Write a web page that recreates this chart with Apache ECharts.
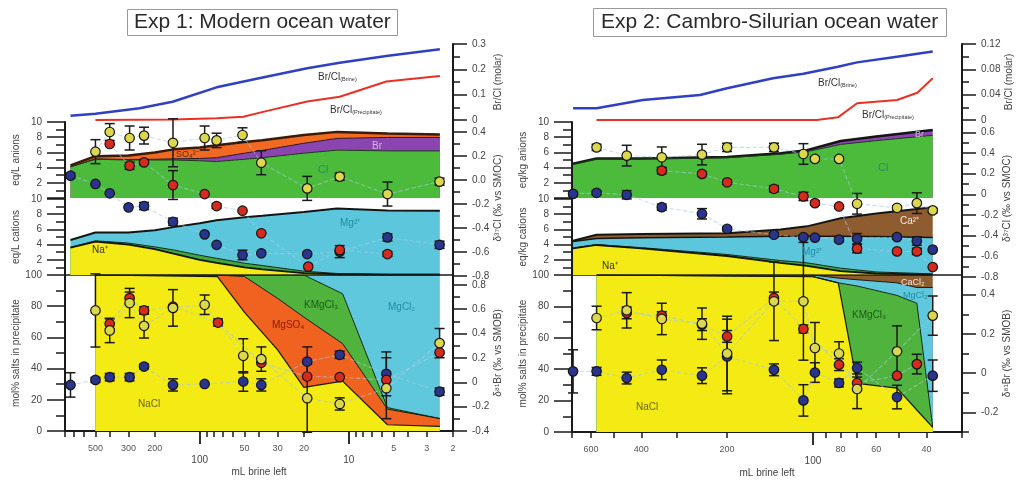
<!DOCTYPE html>
<html><head><meta charset="utf-8">
<script src="https://cdn.jsdelivr.net/npm/echarts@6/dist/echarts.min.js"></script>
<style>html,body{margin:0;padding:0;background:#fff}#c{width:1018px;height:480px}</style>
</head><body><div id="c"></div>
<script>
// ---------------- DATA ----------------
// Exp 1 (left) — x = mL brine left
const L_BRINE_X = [735, 500, 253, 152, 77, 40, 19, 11.5, 5.6, 2.45];
const L_BRINE_Y = [0.017, 0.025, 0.046, 0.072, 0.129, 0.165, 0.204, 0.226, 0.253, 0.279];
const L_PREC_X = [500, 150, 77, 51, 37, 19, 11.5, 5.6, 2.45];
const L_PREC_Y = [0, 0.002, 0.007, 0.013, 0.033, 0.073, 0.092, 0.152, 0.174];

const L_ION_X = [735, 500, 300, 200, 150, 100, 77, 50, 38, 20, 12, 5.5, 2.45];
const L_CL  = [4.1, 5.1, 5.0, 5.0, 5.0, 4.9, 4.8, 5.1, 5.3, 5.9, 6.3, 6.2, 6.2];
const L_BR  = [0, 0.05, 0.05, 0.1, 0.15, 0.3, 0.5, 0.8, 0.96, 1.3, 1.54, 1.77, 1.77];
const L_SO4 = [0.2, 0.35, 0.55, 0.9, 1.25, 1.45, 1.65, 1.47, 1.34, 1.08, 0.86, 0.53, 0.4];
const L_NA  = [3.6, 4.4, 4.0, 3.4, 2.8, 2.0, 1.6, 1.0, 0.75, 0.25, 0.1, 0.05, 0.05];
const L_K   = [0.05, 0.1, 0.2, 0.3, 0.5, 0.6, 0.6, 0.55, 0.5, 0.25, 0.1, 0.05, 0.05];
const L_MG  = [0.95, 1.1, 1.4, 2.2, 3.0, 4.2, 5.0, 6.05, 6.55, 7.8, 8.55, 8.4, 8.35];

const L_PPT_X = [500, 76, 50, 30, 20, 11, 5.5, 2.45];
const L_NACL   = [100, 99, 76, 52, 28, 32, 4, 3];
const L_MGSO4  = [0, 1, 23, 33, 45, 24, 10, 5];
const L_KMGCL3 = [0, 0, 1, 15, 27, 32, 1, 0];
const L_MGCL2  = [0, 0, 0, 0, 0, 12, 85, 92];

const L37_BLUE_X = [735, 500, 401, 300, 236, 151, 92.6, 77, 51.6, 38.6, 19, 11.5, 5.5, 2.46];
const L37_BLUE_Y = [0.036, -0.033, -0.111, -0.228, -0.217, -0.348, -0.453, -0.54, -0.625, -0.611, -0.617, -0.597, -0.478, -0.54];
const L37_BLUE_E = [0.02, 0, 0, 0, 0.03, 0.03, 0, 0, 0.04, 0, 0, 0.05, 0.03, 0.03];
const L37_RED_X = [401, 295, 236, 151, 92.6, 77, 51.6, 38.6, 18.7, 11.5, 5.5];
const L37_RED_Y = [0.3, 0.119, 0.147, -0.042, -0.117, -0.217, -0.256, -0.444, -0.722, -0.583, -0.617];
const L37_RED_E = [0, 0.03, 0.02, 0.12, 0, 0.02, 0, 0, 0, 0, 0.02];
const L37_YEL_X = [500, 401, 295, 236, 151, 92.6, 77, 51.6, 38.6, 19, 11.5, 5.5, 2.46];
const L37_YEL_Y = [0.236, 0.40, 0.35, 0.37, 0.31, 0.35, 0.33, 0.375, 0.144, -0.07, 0.028, -0.117, -0.014];
const L37_YEL_E = [0.1, 0.07, 0.1, 0.07, 0.2, 0.1, 0.06, 0.06, 0.1, 0.1, 0.03, 0.1, 0.03];

const L81_YEL_X = [500, 401, 295, 236, 151, 92.6, 51, 38.6, 19, 11.5, 5.6, 2.46];
const L81_YEL_Y = [0.589, 0.425, 0.65, 0.463, 0.61, 0.636, 0.217, 0.19, -0.131, -0.178, -0.049, 0.321];
const L81_YEL_E = [0.3, 0.1, 0.12, 0.1, 0.15, 0.08, 0.14, 0.1, 0.28, 0.05, 0.25, 0.12];
const L81_RED_X = [401, 295, 236, 151, 75.3, 38.6, 19, 11.5, 5.6, 2.46];
const L81_RED_Y = [0.48, 0.69, 0.589, 0.62, 0.49, 0.16, 0.047, 0.042, 0.019, 0.244];
const L81_RED_E = [0.04, 0.05, 0.03, 0, 0.03, 0, 0, 0, 0, 0];
const L81_BLUE_X = [735, 500, 401, 295, 236, 151, 92.6, 51, 38.6, 19, 11.5, 5.6, 2.46];
const L81_BLUE_Y = [-0.022, 0.019, 0.042, 0.042, 0.129, -0.022, -0.014, 0.006, -0.022, 0.17, 0.225, 0.069, -0.077];
const L81_BLUE_E = [0.1, 0.02, 0.03, 0.03, 0.02, 0.05, 0, 0.08, 0.05, 0.12, 0.03, 0.18, 0.03];

// Exp 2 (right)
const R_BRINE_X = [694, 574, 395, 249, 200, 138, 108, 81.7, 70, 50.7, 38];
const R_BRINE_Y = [0.0185, 0.0185, 0.0316, 0.0395, 0.05, 0.066, 0.073, 0.084, 0.091, 0.1, 0.108];
const R_PREC_X = [574, 97, 81.7, 70, 50.7, 43, 38];
const R_PREC_Y = [0, 0, 0.0042, 0.0264, 0.0316, 0.043, 0.066];

const R_ION_X = [694, 574, 400, 200, 130, 105, 80, 60, 38];
const R_CL = [4.45, 5.15, 5.15, 5.3, 5.75, 6.1, 7.05, 7.55, 8.25];
const R_BR = [0.05, 0.05, 0.05, 0.1, 0.15, 0.2, 0.45, 0.55, 0.7];
const R_NA = [3.5, 3.95, 3.5, 2.5, 1.6, 1.2, 0.5, 0.2, 0.05];
const R_K  = [0.05, 0.05, 0.1, 0.2, 0.3, 0.4, 0.4, 0.2, 0.1];
const R_MG = [0.85, 0.8, 1.3, 2.3, 3.2, 3.5, 4.2, 4.65, 4.8];
const R_CA = [0.1, 0.5, 0.5, 0.5, 0.9, 1.3, 2.36, 3.05, 3.95];

const R_PPT_X = [574, 100, 81.5, 70, 50.7, 43.2, 38];
const R_NACL   = [100, 99, 95, 31, 28, 14, 3];
const R_KMGCL3 = [0, 0, 0, 62, 59, 68, 0];
const R_MGCL2  = [0, 1, 3, 4, 8, 10, 89];
const R_CACL2  = [0, 0, 2, 3, 5, 8, 8];

const R37_YEL_X = [574, 450, 339, 245, 200, 137, 108, 98.4, 81, 70, 50.7, 43.2, 38];
const R37_YEL_Y = [0.455, 0.375, 0.359, 0.385, 0.455, 0.455, 0.391, 0.343, 0.343, -0.091, -0.130, -0.085, -0.155];
const R37_YEL_E = [0.03, 0.1, 0.1, 0.1, 0.04, 0.04, 0.1, 0.02, 0.02, 0.1, 0.02, 0.1, 0.02];
const R37_RED_X = [339, 245, 200, 137, 108, 98.4, 81, 70, 50.7, 43.2, 38];
const R37_RED_Y = [0.230, 0.198, 0.117, 0.054, -0.020, -0.085, -0.117, -0.525, -0.552, -0.552, -0.704];
const R37_RED_E = [0.03, 0.02, 0.02, 0.03, 0.04, 0.02, 0, 0.04, 0, 0.03, 0];
const R37_BLUE_X = [694, 574, 450, 339, 245, 200, 137, 108, 98.4, 81, 70, 50.7, 43.2, 38];
const R37_BLUE_Y = [0.005, 0.015, -0.004, -0.124, -0.188, -0.333, -0.391, -0.414, -0.419, -0.439, -0.429, -0.414, -0.452, -0.535];
const R37_BLUE_E = [0.02, 0.02, 0.04, 0.03, 0.05, 0.02, 0.02, 0.02, 0, 0.02, 0.05, 0.02, 0.04, 0];

const R81_YEL_X = [574, 450, 339, 245, 200, 137, 108, 98.4, 81, 70, 50.7, 38];
const R81_YEL_Y = [0.281, 0.32, 0.276, 0.252, 0.1, 0.366, 0.366, 0.128, 0.1, -0.081, 0.111, 0.293];
const R81_YEL_E = [0.06, 0.09, 0.08, 0.08, 0.19, 0.2, 0.3, 0.13, 0.06, 0.1, 0.13, 0.1];
const R81_RED_X = [450, 339, 245, 200, 137, 108, 81, 70, 50.7, 43.2];
const R81_RED_Y = [0.307, 0.293, 0.247, 0.187, 0.383, 0.225, 0.043, -0.05, -0.013, 0.046];
const R81_RED_E = [0.03, 0.02, 0.03, 0.03, 0.03, 0.02, 0.03, 0.03, 0, 0.05];
const R81_BLUE_X = [694, 574, 450, 339, 245, 200, 137, 108, 98.4, 81, 70, 50.7, 38];
const R81_BLUE_Y = [0.009, 0.009, -0.025, 0.017, -0.013, 0.085, 0.017, -0.139, 0.003, -0.05, 0.026, -0.122, -0.013];
const R81_BLUE_E = [0.11, 0.02, 0.03, 0.05, 0.04, 0.19, 0.03, 0.08, 0.05, 0.02, 0.03, 0.06, 0.08];

// tick values
const L_X_TICKS = [800, 700, 600, 500, 400, 300, 200, 90, 80, 70, 60, 50, 40, 30, 20, 9, 8, 7, 6, 5, 4, 3, 2];
const L_X_LABELS = [500, 300, 200, 50, 30, 20, 5, 3, 2];
const L_X_MAJOR = [100, 10];
const R_X_TICKS = [700, 600, 500, 400, 300, 200, 90, 80, 70, 60, 50, 40, 30];
const R_X_LABELS = [600, 400, 200, 80, 60, 40];
const R_X_MAJOR = [100];

// ---------------- BUILD ----------------
const FONT = '"Liberation Sans", Arial, sans-serif';
const AX = '#1a1a1a';
const LOG = Math.log10;
const grids = [], xAxes = [], yAxes = [], series = [];
const addGrid = g => { grids.push(Object.assign({ containLabel: false, outerBoundsMode: 'none' }, g)); return grids.length - 1; };
const addX = o => { xAxes.push(o); return xAxes.length - 1; };
const addY = o => { yAxes.push(o); return yAxes.length - 1; };
const cum = (...arrs) => arrs[0].map((_, i) => arrs.reduce((s, a) => s + a[i], 0));
const nameStyle = { fontSize: 10, color: '#444', fontFamily: FONT };

function hiddenX(gi, P, lineShow) {
  return addX({ type: 'value', gridIndex: gi, min: P.xmin, max: P.xmax, inverse: true, position: 'bottom',
    axisLine: { show: !!lineShow, onZero: false, lineStyle: { color: AX, width: 1.5 } },
    axisTick: { show: false }, axisLabel: { show: false }, splitLine: { show: false } });
}
function yPair(gi, pos, min, max, labels, minors, fmt, name, nameGap, majorLen, minorLen, margin, labelVals) {
  addY({ type: 'value', gridIndex: gi, position: pos, min, max,
    axisLine: { show: false }, axisTick: { show: true, customValues: minors, length: minorLen, lineStyle: { color: AX, width: 1.5 } },
    axisLabel: { show: false }, splitLine: { show: false } });
  return addY({ type: 'value', gridIndex: gi, position: pos, min, max,
    axisLine: { show: true, onZero: false, lineStyle: { color: AX, width: 2 } },
    axisTick: { show: true, customValues: labels, length: majorLen, lineStyle: { color: AX, width: 1.5 } },
    axisLabel: { customValues: labelVals || labels, formatter: fmt, margin, fontSize: 10, color: '#444', fontFamily: FONT },
    splitLine: { show: false },
    name, nameLocation: 'middle', nameGap, nameRotate: 90, nameTextStyle: nameStyle });
}
function area(xi, yi, xs, tops, color, lc, lw, z) {
  series.push({ type: 'line', xAxisIndex: xi, yAxisIndex: yi, data: xs.map((x, i) => [LOG(x), tops[i]]),
    symbol: 'none', silent: true, z, lineStyle: { color: lc, width: lw }, areaStyle: { color, opacity: 1 } });
}
function line(xi, yi, xs, ys, color, w) {
  series.push({ type: 'line', xAxisIndex: xi, yAxisIndex: yi, data: xs.map((x, i) => [LOG(x), ys[i]]),
    symbol: 'none', silent: true, z: 3, lineStyle: { color, width: w } });
}
function points(xi, yi, xs, ys, es, color) {
  series.push({ type: 'custom', xAxisIndex: xi, yAxisIndex: yi, z: 5, silent: true,
    data: xs.map((x, i) => [LOG(x), ys[i], es[i]]).filter(d => d[2] > 0),
    encode: { x: 0, y: 1 },
    renderItem: (params, api) => {
      const x = api.value(0), y = api.value(1), e = api.value(2);
      const t = api.coord([x, y + e]), b = api.coord([x, y - e]); const w = 5;
      const st = { stroke: '#1a1a1a', lineWidth: 1.5 };
      return { type: 'group', children: [
        { type: 'line', shape: { x1: t[0], y1: t[1], x2: b[0], y2: b[1] }, style: st },
        { type: 'line', shape: { x1: t[0] - w, y1: t[1], x2: t[0] + w, y2: t[1] }, style: st },
        { type: 'line', shape: { x1: b[0] - w, y1: b[1], x2: b[0] + w, y2: b[1] }, style: st } ] };
    } });
  series.push({ type: 'line', xAxisIndex: xi, yAxisIndex: yi, z: 6, silent: true,
    data: xs.map((x, i) => [LOG(x), ys[i]]), symbol: 'circle', symbolSize: 9.5,
    itemStyle: { color, borderColor: '#151515', borderWidth: 1.2 },
    lineStyle: { type: 'dashed', color: '#a7cbe0', width: 1.1, opacity: 0.6 } });
}

const BLUE = '#29348f', RED = '#d62a1f', YEL = '#dcd84e';
const C = { cl: '#4cbb3c', br: '#8a45b0', so4: '#f26a21', na: '#f3ea16', k: '#3ea83a', mg: '#5cc7dc', ca: '#8f5c2f',
  nacl: '#f4ea14', mgso4: '#f0621f', kmg: '#4fb33d', mgcl2: '#60c8dd', cacl2: '#8f5c2f' };

function panel(P) {
  const g0 = addGrid({ left: P.left, width: P.width, top: 44, height: 76 });
  const g1 = addGrid({ left: P.left, width: P.width, top: 122, height: 76 });
  const g2 = addGrid({ left: P.left, width: P.width, top: 199, height: 76 });
  const g3 = addGrid({ left: P.left, width: P.width, top: 275, height: P.pH });
  const g4 = addGrid({ left: P.left, width: P.width, top: 120, height: P.dH });
  const x0 = hiddenX(g0, P), x1 = hiddenX(g1, P), x2 = hiddenX(g2, P, true), x4 = hiddenX(g4, P);
  const lf = v => String(Math.round(Math.pow(10, v)));
  const x3 = addX({ type: 'value', gridIndex: g3, min: P.xmin, max: P.xmax, inverse: true, position: 'bottom',
    axisLine: { onZero: false, lineStyle: { color: AX, width: 2 } },
    axisTick: { customValues: P.xTicks.map(LOG), length: 6, lineStyle: { color: AX, width: 1.5 } },
    axisLabel: { customValues: P.xLabels.map(LOG), formatter: lf, margin: 13, fontSize: 9, color: '#555', fontFamily: FONT },
    splitLine: { show: false } });
  addX({ type: 'value', gridIndex: g3, min: P.xmin, max: P.xmax, inverse: true, position: 'bottom',
    axisLine: { show: false, onZero: false },
    axisTick: { customValues: P.xMajor.map(LOG), length: 13, lineStyle: { color: AX, width: 1.8 } },
    axisLabel: { customValues: P.xMajor.map(LOG), formatter: lf, margin: 24, fontSize: 10, color: '#444', fontFamily: FONT },
    splitLine: { show: false }, name: 'mL brine left', nameLocation: 'middle', nameGap: 36, nameTextStyle: nameStyle });

  const ints = [0, 2, 4, 6, 8, 10], odd = [1, 3, 5, 7, 9];
  const y0 = yPair(g0, 'right', 0, P.brMax, P.brTicks, P.brMinor, v => v === 0 ? '0' : String(+v.toFixed(2)),
    'Br/Cl (molar)', 40, 14, 7, 19);
  const y1 = yPair(g1, 'left', 0, 10, ints, odd, v => String(v), P.anName, 44, 18, 9, 23, [2, 4, 6, 8, 10]);
  const y2 = yPair(g2, 'left', 0, 10, ints, odd, v => String(v), P.catName, 44, 18, 9, 23, [2, 4, 6, 8, 10]);
  const y3 = yPair(g3, 'left', 0, 100, [0, 20, 40, 60, 80, 100], [10, 30, 50, 70, 90], v => String(v),
    'mol% salts in precipitate', 44, 18, 9, 23);
  const y3b = yPair(g3, 'right', P.d81Min, P.d81Max, P.d81Ticks, P.d81Minor, v => Math.abs(v) < 1e-9 ? '0' : v.toFixed(1),
    'δ⁸¹Br (‰ vs SMOB)', 40, 14, 7, 19);
  const y4 = yPair(g4, 'right', -0.8, P.d37Max, P.d37Ticks, P.d37Minor, P.d37Fmt,
    'δ³⁷Cl (‰ vs SMOC)', 40, 14, 7, 19);

  line(x0, y0, P.brineX, P.brineY, '#2f40c4', 2.5);
  line(x0, y0, P.precX, P.precY, '#ea3025', 2);
  P.anion.forEach(a => area(x1, y1, P.ionX, a.top, a.color, a.lc, a.lw, 2));
  P.cation.forEach(a => area(x2, y2, P.ionX, a.top, a.color, a.lc, a.lw, 2));
  P.ppt.forEach(a => area(x3, y3, P.pptX, a.top, a.color, a.lc, a.lw, 2));
  P.d37.forEach(s => points(x4, y4, s[0], s[1], s[2], s[3]));
  P.d81.forEach(s => points(x3, y3b, s[0], s[1], s[2], s[3]));
}

panel({
  left: 65, width: 388, xmin: LOG(2), xmax: LOG(800), pH: 156, dH: 156,
  xTicks: L_X_TICKS, xLabels: L_X_LABELS, xMajor: L_X_MAJOR,
  brMax: 0.3, brTicks: [0, 0.1, 0.2, 0.3], brMinor: [0.05, 0.15, 0.25],
  anName: 'eq/L anions', catName: 'eq/L cations',
  d81Min: -0.4, d81Max: 0.88, d81Ticks: [-0.4, -0.2, 0, 0.2, 0.4, 0.6, 0.8], d81Minor: [-0.3, -0.1, 0.1, 0.3, 0.5, 0.7],
  d37Max: 0.5, d37Ticks: [-0.8, -0.6, -0.4, -0.2, 0, 0.2, 0.4], d37Minor: [-0.7, -0.5, -0.3, -0.1, 0.1, 0.3],
  d37Fmt: v => v.toFixed(1),
  brineX: L_BRINE_X, brineY: L_BRINE_Y, precX: L_PREC_X, precY: L_PREC_Y,
  ionX: L_ION_X, pptX: L_PPT_X,
  anion: [
    { top: cum(L_CL, L_BR, L_SO4), color: C.so4, lc: '#3a1a08', lw: 2.5 },
    { top: cum(L_CL, L_BR), color: C.br, lc: '#2a1a2a', lw: 1 },
    { top: L_CL, color: C.cl, lc: '#1f3a1a', lw: 1 } ],
  cation: [
    { top: cum(L_NA, L_K, L_MG), color: C.mg, lc: '#151515', lw: 2 },
    { top: cum(L_NA, L_K), color: C.k, lc: '#1a2a1a', lw: 1 },
    { top: L_NA, color: C.na, lc: '#151515', lw: 1.8 } ],
  ppt: [
    { top: cum(L_NACL, L_MGSO4, L_KMGCL3, L_MGCL2), color: C.mgcl2, lc: '#151515', lw: 1.5 },
    { top: cum(L_NACL, L_MGSO4, L_KMGCL3), color: C.kmg, lc: '#1a2a1a', lw: 1 },
    { top: cum(L_NACL, L_MGSO4), color: C.mgso4, lc: '#1a1a1a', lw: 1 },
    { top: L_NACL, color: C.nacl, lc: '#1a1a1a', lw: 1.2 } ],
  d37: [[L37_BLUE_X, L37_BLUE_Y, L37_BLUE_E, BLUE], [L37_RED_X, L37_RED_Y, L37_RED_E, RED], [L37_YEL_X, L37_YEL_Y, L37_YEL_E, YEL]],
  d81: [[L81_BLUE_X, L81_BLUE_Y, L81_BLUE_E, BLUE], [L81_RED_X, L81_RED_Y, L81_RED_E, RED], [L81_YEL_X, L81_YEL_Y, L81_YEL_E, YEL]]
});

panel({
  left: 572, width: 390, xmin: LOG(30), xmax: LOG(700), pH: 157, dH: 157,
  xTicks: R_X_TICKS, xLabels: R_X_LABELS, xMajor: R_X_MAJOR,
  brMax: 0.12, brTicks: [0, 0.04, 0.08, 0.12], brMinor: [0.02, 0.06, 0.1],
  anName: 'eq/kg anions', catName: 'eq/kg cations',
  d81Min: -0.3, d81Max: 0.5, d81Ticks: [-0.2, 0, 0.2, 0.4], d81Minor: [-0.3, -0.1, 0.1, 0.3],
  d37Max: 0.72, d37Ticks: [-0.8, -0.6, -0.4, -0.2, 0, 0.2, 0.4, 0.6], d37Minor: [-0.7, -0.5, -0.3, -0.1, 0.1, 0.3, 0.5],
  d37Fmt: v => Math.abs(v) < 1e-9 ? '0' : v.toFixed(1),
  brineX: R_BRINE_X, brineY: R_BRINE_Y, precX: R_PREC_X, precY: R_PREC_Y,
  ionX: R_ION_X, pptX: R_PPT_X,
  anion: [
    { top: cum(R_CL, R_BR), color: C.br, lc: '#151515', lw: 2.5 },
    { top: R_CL, color: C.cl, lc: '#1f3a1a', lw: 1 } ],
  cation: [
    { top: cum(R_NA, R_K, R_MG, R_CA), color: C.ca, lc: '#151515', lw: 2 },
    { top: cum(R_NA, R_K, R_MG), color: C.mg, lc: '#151515', lw: 1.5 },
    { top: cum(R_NA, R_K), color: C.k, lc: '#1a2a1a', lw: 1 },
    { top: R_NA, color: C.na, lc: '#151515', lw: 1.8 } ],
  ppt: [
    { top: cum(R_NACL, R_KMGCL3, R_MGCL2, R_CACL2), color: C.cacl2, lc: '#151515', lw: 1.5 },
    { top: cum(R_NACL, R_KMGCL3, R_MGCL2), color: C.mgcl2, lc: '#1a1a1a', lw: 1 },
    { top: cum(R_NACL, R_KMGCL3), color: C.kmg, lc: '#1a2a1a', lw: 1 },
    { top: R_NACL, color: C.nacl, lc: '#1a1a1a', lw: 1.2 } ],
  d37: [[R37_BLUE_X, R37_BLUE_Y, R37_BLUE_E, BLUE], [R37_RED_X, R37_RED_Y, R37_RED_E, RED], [R37_YEL_X, R37_YEL_Y, R37_YEL_E, YEL]],
  d81: [[R81_BLUE_X, R81_BLUE_Y, R81_BLUE_E, BLUE], [R81_RED_X, R81_RED_Y, R81_RED_E, RED], [R81_YEL_X, R81_YEL_Y, R81_YEL_E, YEL]]
});

function txt(x, y, text, fill, size, rich) {
  return { type: 'text', x, y, z: 100, silent: true,
    style: { text, fill, fontSize: size || 10, fontFamily: FONT, textVerticalAlign: 'middle', rich: rich || undefined } };
}
const subRich = { m: { fontSize: 10, fill: '#333', lineHeight: 14, verticalAlign: 'bottom' }, s: { fontSize: 5.5, fill: '#333', verticalAlign: 'bottom' } };
const graphic = [
  txt(318, 75, '{m|Br/Cl}{s|(Brine)}', '#333', 10, subRich),
  txt(330, 108, '{m|Br/Cl}{s|(Precipitate)}', '#333', 10, subRich),
  txt(176, 155, 'SO₄²⁻', '#5a2a0a', 9),
  txt(372, 146, 'Br', '#d9b0ea', 10),
  txt(318, 170, 'Cl', '#2a8f5a', 11),
  txt(340, 223, 'Mg²⁺', '#1e8da5', 10),
  txt(92, 250, 'Na⁺', '#333', 10),
  txt(304, 305, 'KMgCl₃', '#1d5a1d', 10),
  txt(272, 325, 'MgSO₄', '#8a1808', 10),
  txt(388, 307, 'MgCl₂', '#1e8da5', 10),
  txt(138, 404, 'NaCl', '#6a6420', 10),
  txt(818, 81, '{m|Br/Cl}{s|(Brine)}', '#333', 10, subRich),
  txt(862, 113, '{m|Br/Cl}{s|(Precipitate)}', '#333', 10, subRich),
  txt(878, 168, 'Cl', '#2a8f5a', 11),
  txt(915, 135, 'Br', '#d9b0ea', 9),
  txt(900, 221, 'Ca²⁺', '#f3e8dc', 10),
  txt(802, 252, 'Mg²⁺', '#1e8da5', 10),
  txt(602, 266, 'Na⁺', '#333', 10),
  txt(901, 283, 'CaCl₂', '#f3e8dc', 9),
  txt(903, 296, 'MgCl₂', '#1e8da5', 9),
  txt(852, 315, 'KMgCl₃', '#1d5a1d', 10),
  txt(636, 407, 'NaCl', '#6a6420', 10)
];

const chart = echarts.init(document.getElementById('c'), null, { renderer: 'canvas' });
chart.setOption({
  animation: false,
  backgroundColor: '#fff',
  title: [
    { text: 'Exp 1: Modern ocean water', left: 127, top: 9, padding: [3, 7, 3, 7], borderColor: '#9a9a9a', borderWidth: 1,
      textStyle: { fontSize: 21, fontWeight: 'normal', color: '#2a2a2a', fontFamily: FONT } },
    { text: 'Exp 2: Cambro-Silurian ocean water', left: 593, top: 8, padding: [4, 8, 4, 8], borderColor: '#9a9a9a', borderWidth: 1,
      textStyle: { fontSize: 21, fontWeight: 'normal', color: '#2a2a2a', fontFamily: FONT } } ],
  grid: grids, xAxis: xAxes, yAxis: yAxes, series, graphic
});
</script></body></html>
